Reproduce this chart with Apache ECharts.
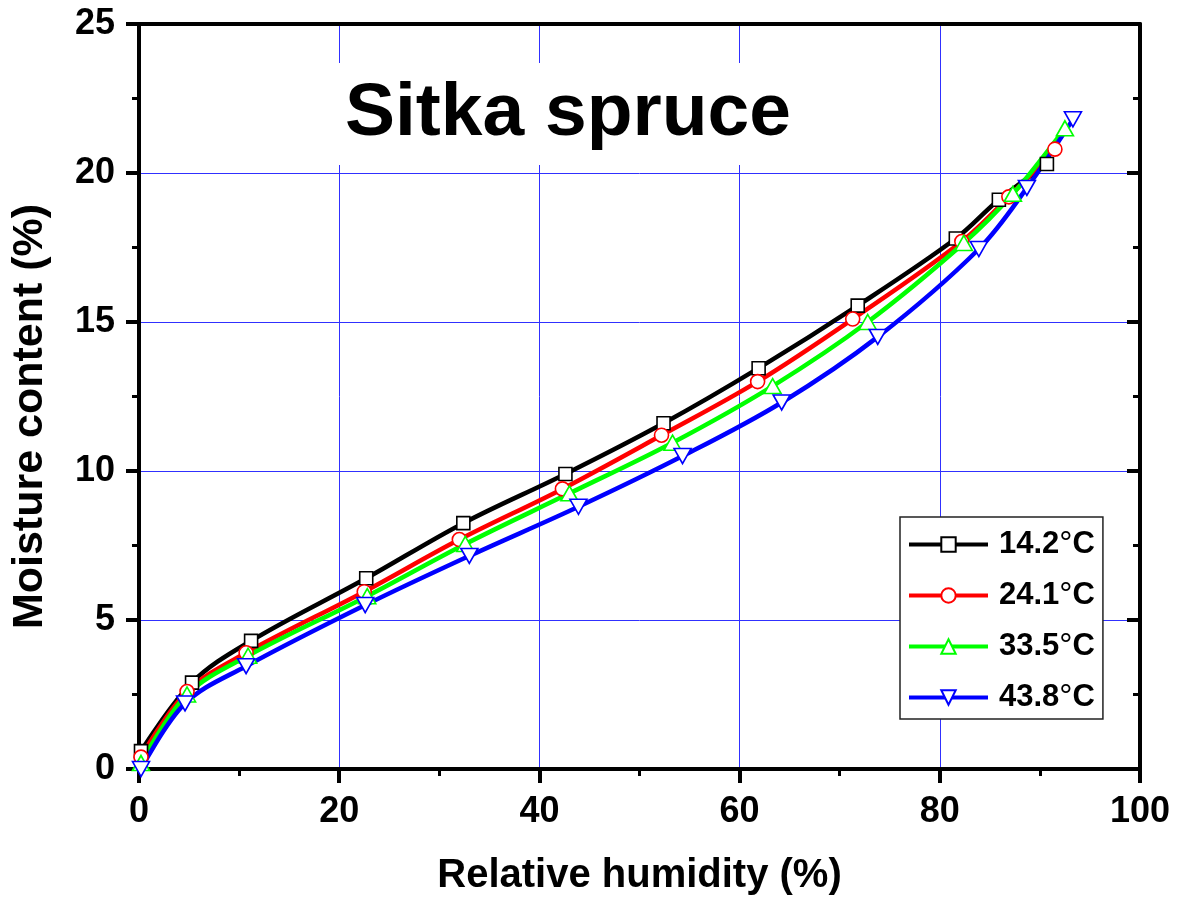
<!DOCTYPE html>
<html>
<head>
<meta charset="utf-8">
<script src="https://cdn.jsdelivr.net/npm/echarts@6/dist/echarts.min.js"></script>
<style>html,body{margin:0;padding:0;background:#fff}#c{width:1178px;height:903px}</style>
</head>
<body>
<div id="c"></div>
<script>
const seriesNames = ['14.2°C', '24.1°C', '33.5°C', '43.8°C'];
const rh142 = [0.2, 5.3, 11.2, 22.7, 32.4, 42.6, 52.4, 61.9, 71.8, 81.6, 85.9, 90.7];
const mc142 = [0.6, 2.9, 4.3, 6.4, 8.25, 9.9, 11.6, 13.45, 15.55, 17.8, 19.1, 20.3];
const rh241 = [0.2, 4.8, 10.7, 22.5, 32.0, 42.3, 52.2, 61.8, 71.3, 82.2, 86.9, 91.5];
const mc241 = [0.4, 2.6, 3.9, 5.95, 7.7, 9.4, 11.2, 13.0, 15.1, 17.7, 19.2, 20.8];
const rh335 = [0.2, 4.8, 10.9, 22.8, 32.6, 43.0, 53.3, 63.3, 72.8, 82.4, 87.3, 92.5];
const mc335 = [0.2, 2.5, 3.8, 5.8, 7.55, 9.25, 10.95, 12.85, 15.0, 17.65, 19.3, 21.5];
const rh438 = [0.2, 4.6, 10.7, 22.6, 33.0, 43.9, 54.3, 64.2, 73.8, 83.9, 88.7, 93.3];
const mc438 = [0.0, 2.2, 3.45, 5.5, 7.15, 8.8, 10.5, 12.3, 14.5, 17.45, 19.5, 21.8];

const FONT = "'Liberation Sans', Arial, sans-serif";
const zip = (xs, ys) => xs.map((x, i) => [x, ys[i]]);

function mkSeries(name, xs, ys, color, symbol, size, rotate) {
  return {
    type: 'line', name: name, data: zip(xs, ys),
    smooth: 0.35, symbol: symbol, symbolSize: size, symbolRotate: rotate || 0,
    showAllSymbol: true, color: color,
    lineStyle: { color: color, width: 4.5 },
    itemStyle: { color: '#fff', borderColor: color, borderWidth: 1.6 },
    emphasis: { disabled: true }, animation: false
  };
}

const chart = echarts.init(document.getElementById('c'), null, { renderer: 'canvas' });
const axisLineStyle = { color: '#000', width: 4 };
chart.setOption({
  animation: false,
  backgroundColor: '#fff',
  textStyle: { fontFamily: FONT },
  title: {
    text: 'Sitka spruce', left: 335, top: 63, padding: [12, 10, 12, 10],
    backgroundColor: '#fff',
    textStyle: { fontFamily: FONT, fontSize: 75, fontWeight: 'bold', color: '#000', lineHeight: 78 }
  },
  grid: { left: 139, right: 38, top: 24, bottom: 134, containLabel: false },
  legend: {
    orient: 'vertical', left: 900, top: 517,
    padding: [11, 8, 5, 7], itemGap: 18, itemWidth: 79, itemHeight: 18,
    backgroundColor: '#fff', borderColor: '#222', borderWidth: 1.5,
    selectedMode: false,
    data: seriesNames,
    lineStyle: { width: 4 },
    formatter: function (n) { const p = n.replace('°C', ''); return '{v|' + p + '}{s|°}{v|C}'; },
    textStyle: {
      fontFamily: FONT, color: '#000',
      rich: {
        v: { fontFamily: FONT, fontSize: 31, fontWeight: 'bold', color: '#000', lineHeight: 36 },
        s: { fontFamily: FONT, fontSize: 33, fontWeight: 'normal', color: '#000', lineHeight: 36 }
      },
      padding: [0, 0, 0, 6]
    }
  },
  xAxis: [{
    type: 'value', min: 0, max: 100, interval: 20, position: 'bottom',
    name: 'Relative humidity (%)', nameLocation: 'middle', nameGap: 87,
    nameTextStyle: { fontFamily: FONT, fontSize: 40, fontWeight: 'bold', color: '#000' },
    axisLine: { show: true, onZero: false, lineStyle: axisLineStyle },
    axisTick: { show: true, length: 14, lineStyle: { color: '#000', width: 4 } },
    minorTick: { show: true, splitNumber: 2, length: 7, lineStyle: { color: '#000', width: 3 } },
    splitLine: { show: true, lineStyle: { color: '#3030ff', width: 1 } },
    axisLabel: { margin: 25, fontFamily: FONT, fontSize: 36, fontWeight: 'bold', color: '#000' }
  }, {
    type: 'value', min: 0, max: 100, interval: 20, position: 'top',
    axisLine: { show: true, onZero: false, lineStyle: axisLineStyle },
    axisTick: { show: false }, axisLabel: { show: false }, splitLine: { show: false }
  }],
  yAxis: [{
    type: 'value', min: 0, max: 25, interval: 5, position: 'left',
    name: 'Moisture content (%)', nameLocation: 'middle', nameGap: 87,
    nameTextStyle: { fontFamily: FONT, fontSize: 43, fontWeight: 'bold', color: '#000', padding: [0, 40, 0, 0] },
    axisLine: { show: true, onZero: false, lineStyle: axisLineStyle },
    axisTick: { show: true, length: 13, lineStyle: { color: '#000', width: 4 } },
    minorTick: { show: true, splitNumber: 2, length: 7, lineStyle: { color: '#000', width: 3 } },
    splitLine: { show: true, lineStyle: { color: '#3030ff', width: 1 } },
    axisLabel: { margin: 24, fontFamily: FONT, fontSize: 36, fontWeight: 'bold', color: '#000' }
  }, {
    type: 'value', min: 0, max: 25, interval: 5, position: 'right',
    axisLine: { show: true, onZero: false, lineStyle: axisLineStyle },
    axisTick: { show: true, inside: true, length: 13, lineStyle: { color: '#000', width: 4 } },
    minorTick: { show: true, splitNumber: 2, length: 7, lineStyle: { color: '#000', width: 3 } },
    axisLabel: { show: false }, splitLine: { show: false }
  }],
  series: [
    mkSeries(seriesNames[0], rh142, mc142, '#000000', 'rect', 13),
    mkSeries(seriesNames[1], rh241, mc241, '#ff0000', 'circle', 14),
    mkSeries(seriesNames[2], rh335, mc335, '#00ff00', 'triangle', [17, 15]),
    mkSeries(seriesNames[3], rh438, mc438, '#0000ff', 'triangle', [17, 15], 180)
  ]
});
</script>
</body>
</html>
